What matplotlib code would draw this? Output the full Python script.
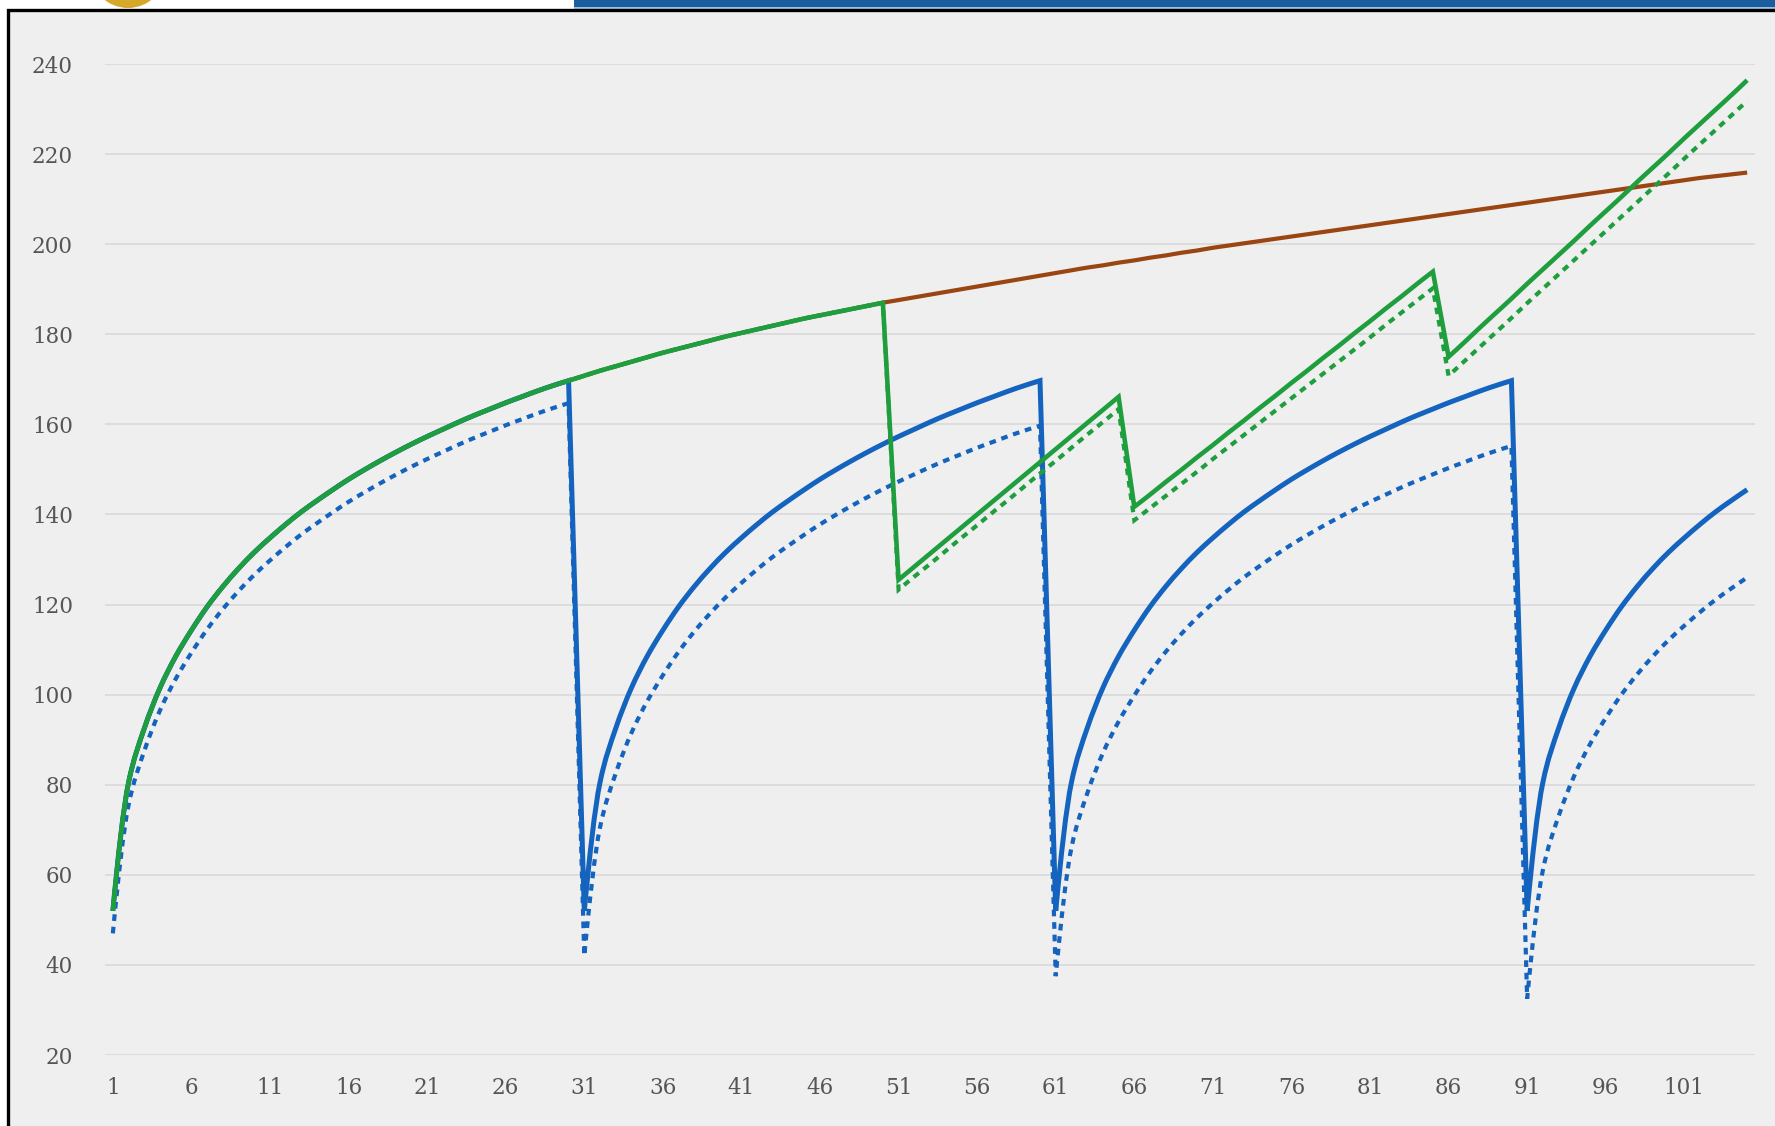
import numpy as np
import matplotlib
matplotlib.use("Agg")
import matplotlib.pyplot as plt
from matplotlib.patches import Rectangle, Ellipse, PathPatch
from matplotlib.lines import Line2D
from matplotlib.path import Path

# ---- data -------------------------------------------------------------
periods = list(range(1, 106))
tick_periods = list(range(1, 102, 5))
y_ticks = list(range(20, 241, 20))

trend_brown = [
    52.0, 80.5, 92.5, 101.5, 108.5, 114.3, 119.5, 124.0, 128.0, 131.6,
    134.8, 137.8, 140.6, 143.1, 145.5, 147.8, 149.9, 151.9, 153.8, 155.6,
    157.3, 158.9, 160.5, 162.0, 163.4, 164.8, 166.1, 167.4, 168.6, 169.7,
    170.8, 171.9, 172.9, 173.9, 174.9, 175.9, 176.8, 177.7, 178.6, 179.5,
    180.3, 181.1, 181.9, 182.7, 183.5, 184.2, 184.9, 185.6, 186.3, 187.0,
    187.6, 188.2, 188.8, 189.4, 190.0, 190.6, 191.2, 191.8, 192.4, 193.0,
    193.6, 194.2, 194.8, 195.3, 195.9, 196.4, 197.0, 197.5, 198.1, 198.6,
    199.2, 199.7, 200.2, 200.7, 201.2, 201.7, 202.2, 202.7, 203.2, 203.7,
    204.2, 204.7, 205.2, 205.7, 206.2, 206.7, 207.2, 207.7, 208.2, 208.7,
    209.2, 209.7, 210.2, 210.7, 211.2, 211.7, 212.2, 212.7, 213.2, 213.7,
    214.2, 214.7, 215.1, 215.5, 215.9,
]

green_solid = [
    52.0, 80.5, 92.5, 101.5, 108.5, 114.3, 119.5, 124.0, 128.0, 131.6,
    134.8, 137.8, 140.6, 143.1, 145.5, 147.8, 149.9, 151.9, 153.8, 155.6,
    157.3, 158.9, 160.5, 162.0, 163.4, 164.8, 166.1, 167.4, 168.6, 169.7,
    170.8, 171.9, 172.9, 173.9, 174.9, 175.9, 176.8, 177.7, 178.6, 179.5,
    180.3, 181.1, 181.9, 182.7, 183.5, 184.2, 184.9, 185.6, 186.3, 187.0,
    125.5, 128.4, 131.3, 134.2, 137.1, 140.0, 142.9, 145.8, 148.7, 151.6,
    154.5, 157.4, 160.3, 163.2, 166.1,
    141.7, 144.4, 147.2, 149.9, 152.7, 155.4, 158.2, 160.9, 163.7, 166.4,
    169.2, 171.9, 174.7, 177.4, 180.2, 182.9, 185.7, 188.4, 191.2, 193.9,
    175.0, 178.2, 181.5, 184.7, 187.9, 191.2, 194.4, 197.6, 200.8, 204.1,
    207.3, 210.5, 213.8, 217.0, 220.2, 223.5, 226.7, 229.9, 233.1, 236.4,
]

green_dotted = [
    52.0, 80.5, 92.5, 101.5, 108.5, 114.3, 119.5, 124.0, 128.0, 131.6,
    134.8, 137.8, 140.6, 143.1, 145.5, 147.8, 149.9, 151.9, 153.8, 155.6,
    157.3, 158.9, 160.5, 162.0, 163.4, 164.8, 166.1, 167.4, 168.6, 169.7,
    170.8, 171.9, 172.9, 173.9, 174.9, 175.9, 176.8, 177.7, 178.6, 179.5,
    180.3, 181.1, 181.9, 182.7, 183.5, 184.2, 184.9, 185.6, 186.3, 187.0,
    123.3, 126.2, 129.0, 131.9, 134.8, 137.6, 140.5, 143.3, 146.2, 149.1,
    151.9, 154.8, 157.7, 160.5, 163.4,
    138.7, 141.4, 144.1, 146.8, 149.5, 152.3, 155.0, 157.7, 160.4, 163.1,
    165.8, 168.5, 171.2, 173.9, 176.6, 179.3, 182.1, 184.8, 187.5, 190.2,
    170.8, 174.0, 177.2, 180.4, 183.6, 186.9, 190.1, 193.3, 196.5, 199.7,
    202.9, 206.1, 209.3, 212.5, 215.7, 219.0, 222.2, 225.4, 228.6, 231.8,
]

blue_solid = [
    52.0, 80.5, 92.5, 101.5, 108.5, 114.3, 119.5, 124.0, 128.0, 131.6,
    134.8, 137.8, 140.6, 143.1, 145.5, 147.8, 149.9, 151.9, 153.8, 155.6,
    157.3, 158.9, 160.5, 162.0, 163.4, 164.8, 166.1, 167.4, 168.6, 169.7,
    52.0, 80.5, 92.5, 101.5, 108.5, 114.3, 119.5, 124.0, 128.0, 131.6,
    134.8, 137.8, 140.6, 143.1, 145.5, 147.8, 149.9, 151.9, 153.8, 155.6,
    157.3, 158.9, 160.5, 162.0, 163.4, 164.8, 166.1, 167.4, 168.6, 169.7,
    52.0, 80.5, 92.5, 101.5, 108.5, 114.3, 119.5, 124.0, 128.0, 131.6,
    134.8, 137.8, 140.6, 143.1, 145.5, 147.8, 149.9, 151.9, 153.8, 155.6,
    157.3, 158.9, 160.5, 162.0, 163.4, 164.8, 166.1, 167.4, 168.6, 169.7,
    52.0, 80.5, 92.5, 101.5, 108.5, 114.3, 119.5, 124.0, 128.0, 131.6,
    134.8, 137.8, 140.6, 143.1, 145.5,
]

blue_dotted = [
    47.0, 75.5, 87.5, 96.5, 103.5, 109.3, 114.5, 119.0, 123.0, 126.6,
    129.8, 132.8, 135.6, 138.1, 140.5, 142.8, 144.9, 146.9, 148.8, 150.6,
    152.3, 153.9, 155.5, 157.0, 158.4, 159.8, 161.1, 162.4, 163.6, 164.7,
    42.0, 70.5, 82.5, 91.5, 98.5, 104.3, 109.5, 114.0, 118.0, 121.6,
    124.8, 127.8, 130.6, 133.1, 135.5, 137.8, 139.9, 141.9, 143.8, 145.6,
    147.3, 148.9, 150.5, 152.0, 153.4, 154.8, 156.1, 157.4, 158.6, 159.7,
    37.5, 66.0, 78.0, 87.0, 94.0, 99.8, 105.0, 109.5, 113.5, 117.1,
    120.3, 123.3, 126.1, 128.6, 131.0, 133.3, 135.4, 137.4, 139.3, 141.1,
    142.8, 144.4, 146.0, 147.5, 148.9, 150.3, 151.6, 152.9, 154.1, 155.2,
    32.5, 61.0, 73.0, 82.0, 89.0, 94.8, 100.0, 104.5, 108.5, 112.1,
    115.3, 118.3, 121.1, 123.6, 126.0,
]


# ---- smooth line rendering ---------------------------------------------
def _slopes(x, y):
    """Shape-preserving (Fritsch-Carlson) tangents for one monotone run."""
    h = np.diff(x)
    d = np.diff(y) / h
    n = len(y)
    if n == 2:
        return np.array([d[0], d[0]])
    m = np.zeros(n)
    for k in range(1, n - 1):
        if d[k - 1] * d[k] > 0:
            w1 = 2 * h[k] + h[k - 1]
            w2 = h[k] + 2 * h[k - 1]
            m[k] = (w1 + w2) / (w1 / d[k - 1] + w2 / d[k])

    def end(h0, h1, d0, d1):
        s = ((2 * h0 + h1) * d0 - h0 * d1) / (h0 + h1)
        if np.sign(s) != np.sign(d0):
            return 0.0
        if np.sign(d0) != np.sign(d1) and abs(s) > abs(3 * d0):
            return 3 * d0
        return s

    m[0] = end(h[0], h[1], d[0], d[1])
    m[-1] = end(h[-1], h[-2], d[-1], d[-2])
    return m


def smooth_path(xs, ys):
    """Bezier path through the points; falls between runs stay straight."""
    xs = np.asarray(xs, float)
    ys = np.asarray(ys, float)
    runs, start = [], 0
    for i in range(1, len(ys)):
        if ys[i] < ys[i - 1]:
            runs.append((start, i))
            start = i
    runs.append((start, len(ys)))
    verts, codes = [(xs[0], ys[0])], [Path.MOVETO]
    for r, (a, b) in enumerate(runs):
        if r > 0:
            verts.append((xs[a], ys[a]))
            codes.append(Path.LINETO)
        x, y = xs[a:b], ys[a:b]
        if len(x) < 2:
            continue
        m = _slopes(x, y)
        for k in range(len(x) - 1):
            h = x[k + 1] - x[k]
            verts += [(x[k] + h / 3, y[k] + m[k] * h / 3),
                      (x[k + 1] - h / 3, y[k + 1] - m[k + 1] * h / 3),
                      (x[k + 1], y[k + 1])]
            codes += [Path.CURVE4] * 3
    return Path(verts, codes)


# ---- figure -----------------------------------------------------------
W, H = 1775, 1126
fig = plt.figure(figsize=(W / 100, H / 100), dpi=100, facecolor="white")


def fx(px):
    return px / W


def fy(py):
    return 1 - py / H


# grey chart panel with its dark frame
fig.add_artist(Rectangle((fx(8), 0), 1 - fx(8), fy(10), transform=fig.transFigure,
                         facecolor="#EFEFEF", edgecolor="none", zorder=0))
fig.add_artist(Line2D([fx(8), fx(8), 1.0], [0.0, fy(10), fy(10)], transform=fig.transFigure,
                      color="black", lw=2.4, solid_joinstyle="miter", zorder=5))

# slide header pieces above the panel
fig.add_artist(Rectangle((fx(574), fy(7)), 1 - fx(574), 7 / H, transform=fig.transFigure,
                         facecolor="#1B5E9E", edgecolor="none", zorder=4))
fig.add_artist(Rectangle((fx(574), fy(9)), 1 - fx(574), 2 / H, transform=fig.transFigure,
                         facecolor="#9BC2E6", edgecolor="none", zorder=4))
fig.add_artist(Ellipse((fx(128), fy(-30)), 2 * 38 / W, 2 * 38 / H, transform=fig.transFigure,
                       facecolor="#D4A92A", edgecolor="none", zorder=4))

ax = fig.add_axes([fx(105), fy(1055), fx(1755) - fx(105), (1055 - 64) / H])
ax.set_facecolor("none")

BLUE = "#1463BE"
GREEN = "#1F9E3E"
BROWN = "#9A4512"
dots = (0, (1.6, 1.4))

series = [
    (trend_brown, BROWN, 3.0, "-", 2),
    (blue_dotted, BLUE, 3.0, dots, 3),
    (blue_solid, BLUE, 3.6, "-", 4),
    (green_dotted, GREEN, 3.0, dots, 5),
    (green_solid, GREEN, 3.3, "-", 6),
]
for values, color, lw, ls, z in series:
    ax.add_patch(PathPatch(smooth_path(periods, values), fill=False, edgecolor=color,
                           lw=lw, linestyle=ls, joinstyle="miter", capstyle="butt",
                           zorder=z))

ax.set_xlim(0.5, 105.5)
ax.set_ylim(20, 240)
ax.set_yticks(y_ticks)
ax.set_xticks(tick_periods)
ax.set_xticklabels([str(t) for t in tick_periods])
ax.grid(axis="y", color="#D9D9D9", lw=1.2, zorder=1)
ax.grid(axis="x", visible=False)
ax.set_axisbelow(True)
for s in ax.spines.values():
    s.set_visible(False)

ax.tick_params(axis="y", length=0, pad=23, labelsize=15.5, labelcolor="#555555")
ax.tick_params(axis="x", length=0, pad=16, labelsize=15.5, labelcolor="#555555")
for lab in ax.get_xticklabels() + ax.get_yticklabels():
    lab.set_fontfamily("DejaVu Serif")

fig.savefig("out.png", dpi=100, facecolor=fig.get_facecolor())
